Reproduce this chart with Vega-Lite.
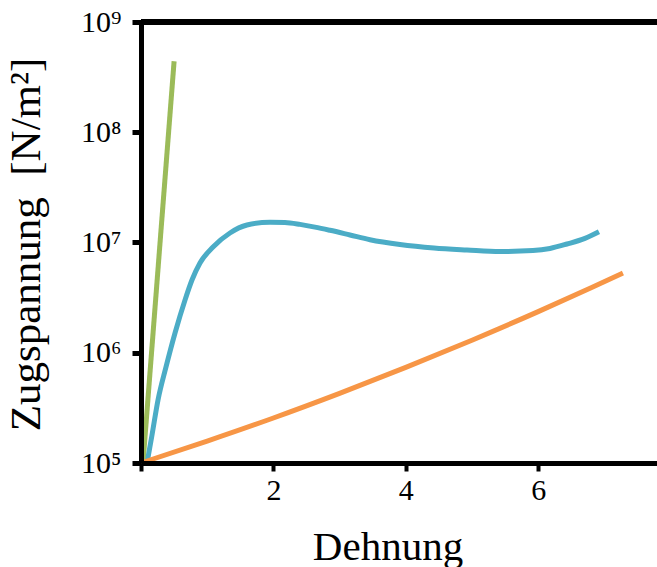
{
  "$schema": "https://vega.github.io/schema/vega-lite/v6.json",
  "autosize": {"type": "none"},
  "padding": {"left": 141, "top": 22, "right": 0, "bottom": 104},
  "width": 516,
  "height": 441,
  "background": "white",
  "config": {
    "view": {"stroke": null},
    "font": "Liberation Serif"
  },
  "data": {
    "values": [
      {"series": "Grün", "x": 0.03, "y": 100000},
      {"series": "Grün", "x": 0.5, "y": 440000000},
      {"series": "Blau", "x": 0.091, "y": 100000},
      {"series": "Blau", "x": 0.166, "y": 179000},
      {"series": "Blau", "x": 0.257, "y": 373000},
      {"series": "Blau", "x": 0.378, "y": 743000},
      {"series": "Blau", "x": 0.514, "y": 1510000},
      {"series": "Blau", "x": 0.665, "y": 3010000},
      {"series": "Blau", "x": 0.77, "y": 4570000},
      {"series": "Blau", "x": 0.891, "y": 6520000},
      {"series": "Blau", "x": 1.088, "y": 9100000},
      {"series": "Blau", "x": 1.344, "y": 12200000},
      {"series": "Blau", "x": 1.601, "y": 14400000},
      {"series": "Blau", "x": 1.949, "y": 15300000},
      {"series": "Blau", "x": 2.175, "y": 15200000},
      {"series": "Blau", "x": 2.402, "y": 14600000},
      {"series": "Blau", "x": 2.628, "y": 13800000},
      {"series": "Blau", "x": 2.855, "y": 12900000},
      {"series": "Blau", "x": 3.157, "y": 11700000},
      {"series": "Blau", "x": 3.459, "y": 10600000},
      {"series": "Blau", "x": 3.912, "y": 9590000},
      {"series": "Blau", "x": 4.426, "y": 8910000},
      {"series": "Blau", "x": 4.924, "y": 8550000},
      {"series": "Blau", "x": 5.423, "y": 8280000},
      {"series": "Blau", "x": 5.921, "y": 8450000},
      {"series": "Blau", "x": 6.178, "y": 8830000},
      {"series": "Blau", "x": 6.435, "y": 9690000},
      {"series": "Blau", "x": 6.707, "y": 10900000},
      {"series": "Blau", "x": 6.918, "y": 12500000},
      {"series": "Orange", "x": 0.0, "y": 100000},
      {"series": "Orange", "x": 1.0, "y": 158000},
      {"series": "Orange", "x": 2.0, "y": 256000},
      {"series": "Orange", "x": 3.0, "y": 428000},
      {"series": "Orange", "x": 4.0, "y": 736000},
      {"series": "Orange", "x": 5.0, "y": 1300000},
      {"series": "Orange", "x": 6.0, "y": 2360000},
      {"series": "Orange", "x": 6.8, "y": 3890000},
      {"series": "Orange", "x": 7.28, "y": 5290000}
    ]
  },
  "encoding": {
    "x": {
      "field": "x",
      "type": "quantitative",
      "scale": {"domain": [0, 7.795], "nice": false, "zero": false},
      "axis": {
        "values": [0, 2, 4, 6],
        "labelExpr": "datum.value == 0 ? '' : datum.label",
        "grid": false,
        "zindex": 1,
        "domainColor": "black",
        "domainWidth": 5,
        "tickColor": "black",
        "tickWidth": 4,
        "tickSize": 8,
        "labelFont": "Liberation Serif",
        "labelFontSize": 30,
        "labelColor": "black",
        "labelPadding": 4,
        "title": "Dehnung",
        "titleFont": "Liberation Serif",
        "titleFontSize": 41,
        "titleFontWeight": "normal",
        "titleColor": "black",
        "titleX": 246.5,
        "titleY": 96,
        "titleAlign": "center",
        "titleBaseline": "alphabetic"
      }
    },
    "y": {
      "field": "y",
      "type": "quantitative",
      "scale": {"type": "log", "domain": [100000, 1000000000], "nice": false},
      "axis": {
        "values": [100000, 1000000, 10000000, 100000000, 1000000000],
        "labelExpr": "'10' + ['⁰','¹','²','³','⁴','⁵','⁶','⁷','⁸','⁹'][round(log(datum.value)/LN10)]",
        "grid": false,
        "zindex": 1,
        "domainColor": "black",
        "domainWidth": 5,
        "tickColor": "black",
        "tickWidth": 5,
        "tickSize": 9,
        "labelFont": "Liberation Serif",
        "labelFontSize": 30,
        "labelColor": "black",
        "labelPadding": 11,
        "title": "Zugspannung\u00a0\u00a0[N/m²]",
        "titleFont": "Liberation Serif",
        "titleFontSize": 43,
        "titleFontWeight": "normal",
        "titleColor": "black",
        "titleX": -102,
        "titleY": 222,
        "titleAngle": -90,
        "titleAlign": "center",
        "titleBaseline": "alphabetic"
      }
    },
    "color": {
      "field": "series",
      "type": "nominal",
      "scale": {"domain": ["Grün", "Blau", "Orange"], "range": ["#9BBB59", "#4BACC6", "#F79646"]},
      "legend": null
    }
  },
  "layer": [
    {
      "transform": [{"filter": "datum.series == 'Grün'"}],
      "mark": {"type": "line", "strokeWidth": 5}
    },
    {
      "transform": [{"filter": "datum.series == 'Blau'"}],
      "mark": {"type": "line", "strokeWidth": 5, "interpolate": "monotone"}
    },
    {
      "transform": [{"filter": "datum.series == 'Orange'"}],
      "mark": {"type": "line", "strokeWidth": 5, "interpolate": "monotone"}
    },
    {
      "mark": {"type": "rule", "strokeWidth": 5, "color": "black"},
      "encoding": {
        "x": null,
        "color": null,
        "y": {"datum": 1000000000, "type": "quantitative"}
      }
    }
  ]
}
